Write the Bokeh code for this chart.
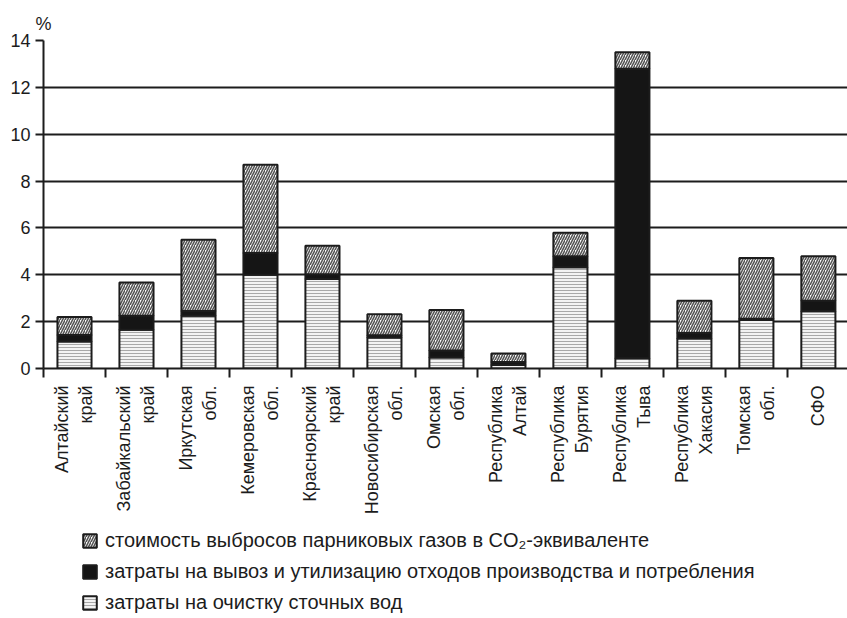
import math
from bokeh.plotting import figure
from bokeh.layouts import column
from bokeh.models import Range1d, FixedTicker, Legend, LegendItem, Title, ColumnDataSource
from bokeh.embed import file_html
from bokeh.resources import INLINE

categories = [
    "Алтайский\nкрай", "Забайкальский\nкрай", "Иркутская\nобл.", "Кемеровская\nобл.",
    "Красноярский\nкрай", "Новосибирская\nобл.", "Омская\nобл.", "Республика\nАлтай",
    "Республика\nБурятия", "Республика\nТыва", "Республика\nХакасия", "Томская\nобл.", "СФО",
]
# затраты на очистку сточных вод
cleaning = [1.15, 1.65, 2.25, 4.00, 3.82, 1.32, 0.47, 0.15, 4.32, 0.44, 1.28, 2.07, 2.44]
# затраты на вывоз и утилизацию отходов
waste = [0.28, 0.60, 0.20, 0.93, 0.20, 0.10, 0.30, 0.13, 0.47, 12.35, 0.23, 0.05, 0.45]
# стоимость выбросов парниковых газов
emissions = [0.77, 1.42, 3.05, 3.77, 1.22, 0.90, 1.73, 0.36, 1.00, 0.71, 1.38, 2.60, 1.90]
y_ticks = [0, 2, 4, 6, 8, 10, 12, 14]
legend_labels = [
    "стоимость выбросов парниковых газов в CO₂-эквиваленте",
    "затраты на вывоз и утилизацию отходов производства и потребления",
    "затраты на очистку сточных вод",
]

FONT = "Liberation Sans"
INK = "#1c1c1c"

xs = [i + 0.5 for i in range(len(categories))]
src = ColumnDataSource(dict(x=xs, cleaning=cleaning, waste=waste, emissions=emissions))

bar_style = dict(fill_color=["#f3f3f3", "#151515", "white"],
                 line_color=INK, line_width=2,
                 hatch_pattern=["horizontal_line", "blank", "right_diagonal_line"],
                 hatch_color=["#a8a8a8", "#151515", "#555555"],
                 hatch_scale=[3, 1, 5], hatch_weight=[1, 1, 1.6])
stackers = ["cleaning", "waste", "emissions"]

p = figure(width=847, height=518, output_backend="svg", toolbar_location=None,
           x_range=Range1d(0, 12.97), y_range=Range1d(0, 14),
           min_border_left=43, min_border_right=0, min_border_top=40, min_border_bottom=150)
p.title = Title(text="%", align="left", offset=-8, text_font=FONT, text_font_size="18px",
                text_font_style="normal", text_color=INK, standoff=14)
p.outline_line_color = None
p.background_fill_color = "white"

rs = p.vbar_stack(stackers, x="x", width=0.55, source=src, **bar_style)

# grid
p.xgrid.visible = False
p.ygrid.ticker = FixedTicker(ticks=y_ticks)
p.ygrid.grid_line_color = INK
p.ygrid.grid_line_width = 2

# y axis
ya = p.yaxis[0]
ya.ticker = FixedTicker(ticks=y_ticks)
ya.axis_line_color = INK
ya.axis_line_width = 2
ya.major_tick_line_color = INK
ya.major_tick_line_width = 2
ya.major_tick_out = 8
ya.major_tick_in = 0
ya.minor_tick_line_color = None
ya.major_label_text_font = FONT
ya.major_label_text_font_size = "18px"
ya.major_label_text_color = INK
ya.major_label_standoff = 5

# x axis
xa = p.xaxis[0]
xa.ticker = FixedTicker(ticks=xs, minor_ticks=list(range(len(categories) + 1)))
xa.major_label_overrides = {x: c for x, c in zip(xs, categories)}
xa.major_label_orientation = math.pi / 2
xa.major_tick_out = 0
xa.major_tick_in = 0
xa.minor_tick_out = 9
xa.minor_tick_in = 0
xa.minor_tick_line_color = INK
xa.minor_tick_line_width = 2
xa.axis_line_color = INK
xa.axis_line_width = 2
xa.major_label_text_font = FONT
xa.major_label_text_font_size = "18px"
xa.major_label_text_color = INK
xa.major_label_standoff = 8

# legend strip under the chart (renderers hidden, only their legend swatches show)
p2 = figure(width=847, height=100, output_backend="svg", toolbar_location=None,
            x_axis_location=None, y_axis_location=None,
            x_range=Range1d(0, 12.97), y_range=Range1d(0, 14),
            min_border=0)
p2.outline_line_color = None
p2.grid.visible = False
rs2 = p2.vbar_stack(stackers, x="x", width=0.55, source=src, **bar_style)
for r in rs2:
    r.visible = False

legend = Legend(items=[
    LegendItem(label=legend_labels[0], renderers=[rs2[2]]),
    LegendItem(label=legend_labels[1], renderers=[rs2[1]]),
    LegendItem(label=legend_labels[2], renderers=[rs2[0]]),
], location=(38, 4))
legend.click_policy = "none"
legend.inactive_fill_alpha = 0
legend.background_fill_alpha = 0
legend.border_line_alpha = 0
legend.label_text_font = FONT
legend.label_text_font_size = "20px"
legend.label_text_color = INK
legend.glyph_width = 17
legend.glyph_height = 17
legend.label_height = 22
legend.spacing = 8
legend.padding = 0
legend.margin = 0
legend.label_standoff = 7
p2.add_layout(legend)

layout = column(p, p2, spacing=0)
open("out.html", "w").write(file_html(layout, INLINE))
